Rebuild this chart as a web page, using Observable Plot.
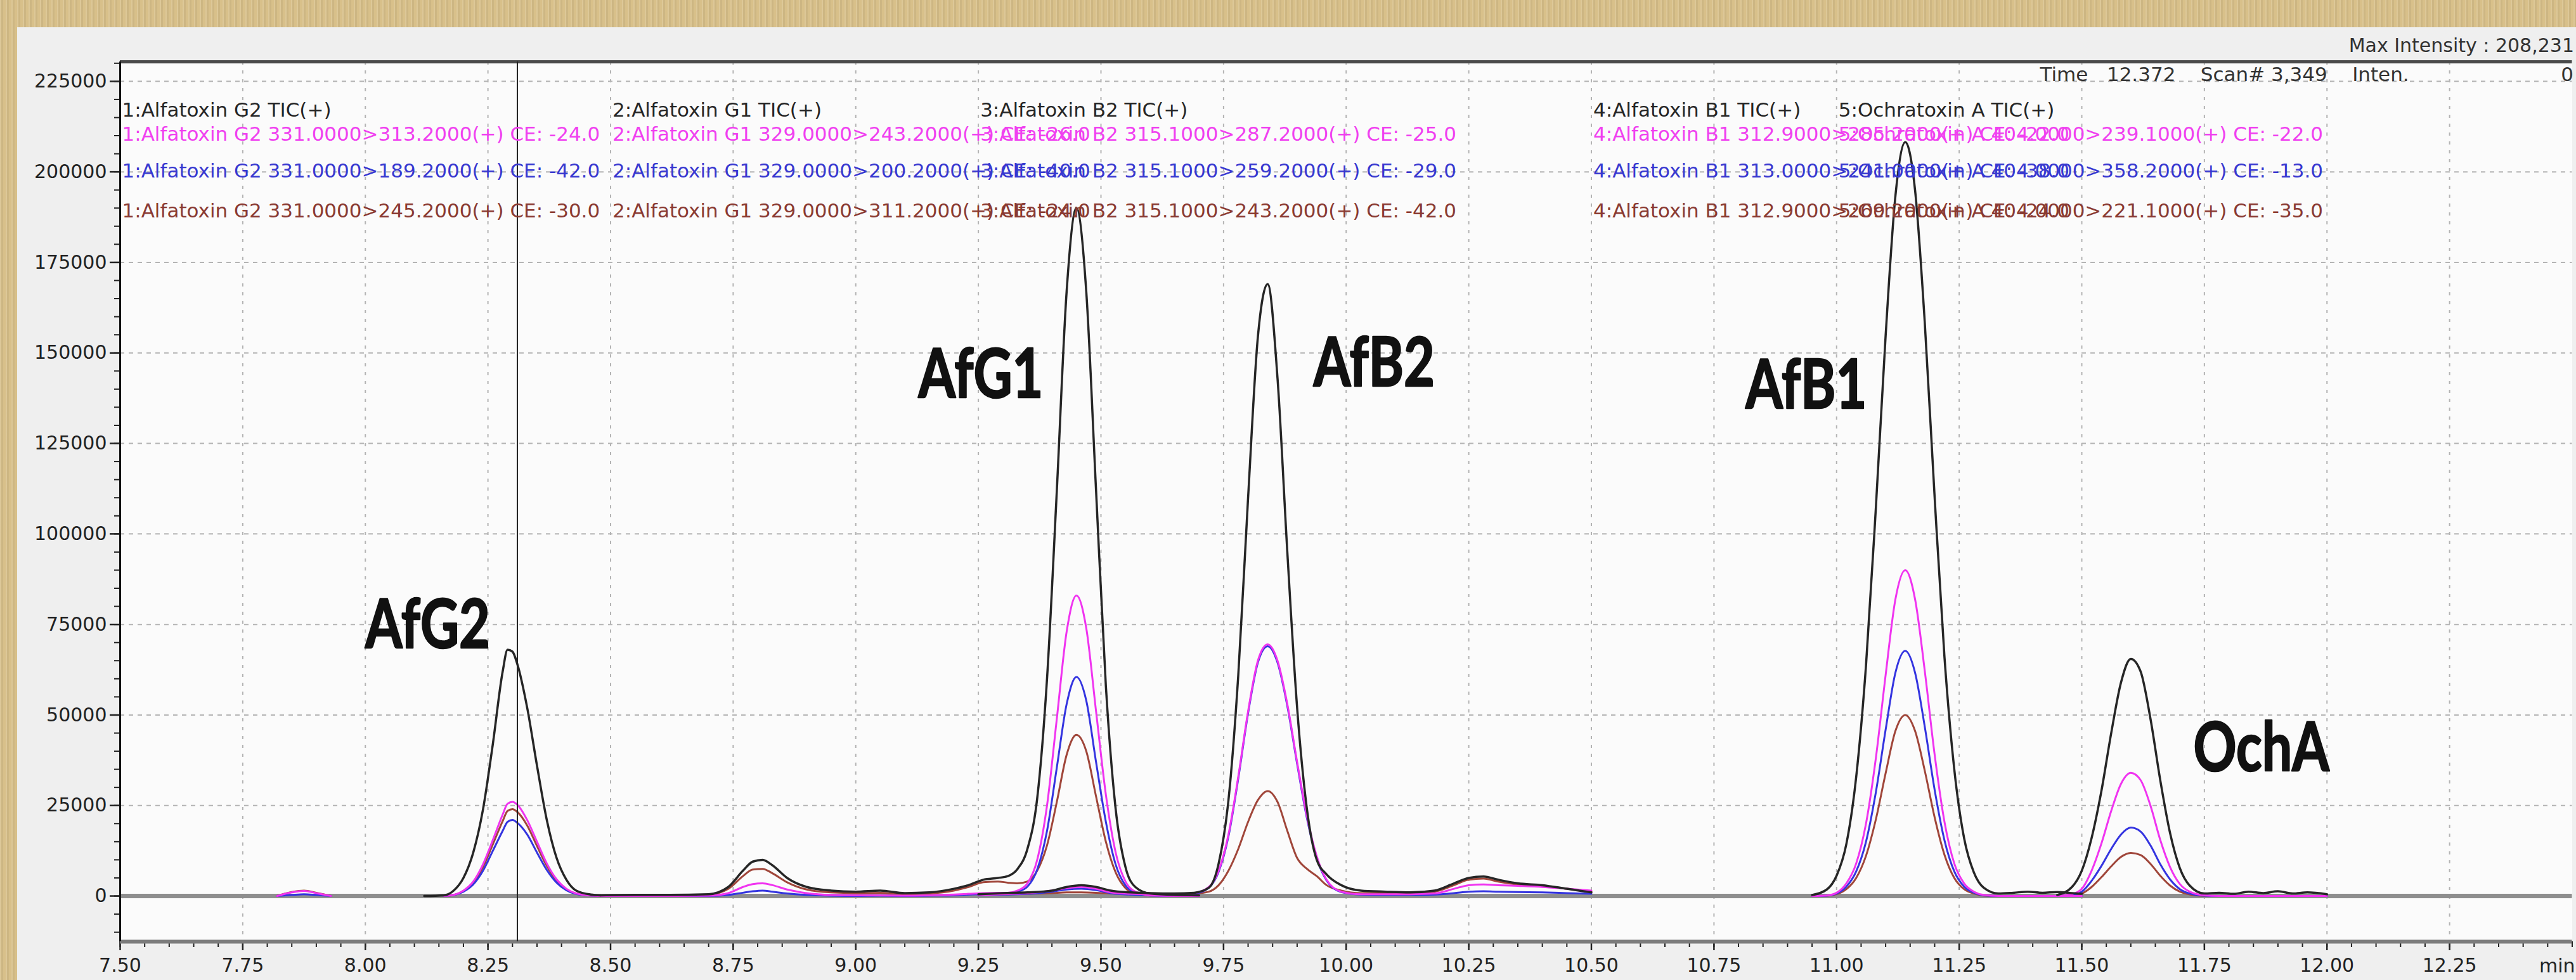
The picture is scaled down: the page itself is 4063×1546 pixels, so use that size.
<!DOCTYPE html>
<html><head><meta charset="utf-8">
<script src="https://cdn.jsdelivr.net/npm/d3@7"></script>
<script src="https://cdn.jsdelivr.net/npm/@observablehq/plot@0.6"></script>
<style>
html,body{margin:0;padding:0}
body{width:4063px;height:1546px;overflow:hidden;position:relative;
 background-color:#d8c08a;
 background-image:repeating-linear-gradient(90deg, rgba(255,255,255,0.12) 0 2px, rgba(0,0,0,0.05) 2px 5px, rgba(255,255,255,0) 5px 9px);}
#panel{position:absolute;left:27px;top:43px;width:4036px;height:1503px;background:#efefef}
</style></head><body><div id="panel"></div>
<script>
// ---------- axes ----------
const xDomain = [7.5, 12.5];
const yDomain = [-12600, 230400];
const xTicks = [7.5, 7.75, 8.0, 8.25, 8.5, 8.75, 9.0, 9.25, 9.5, 9.75, 10.0, 10.25, 10.5, 10.75, 11.0, 11.25, 11.5, 11.75, 12.0, 12.25];
const yTicks = [0, 25000, 50000, 75000, 100000, 125000, 150000, 175000, 200000, 225000];
const xUnit = "min";
const cursorTime = 8.31;
const maxIntensity = 208231;
const cursorInfo = "Time\u00a0\u00a0\u00a012.372\u00a0\u00a0\u00a0\u00a0Scan#\u00a03,349\u00a0\u00a0\u00a0\u00a0Inten.";
const cursorIntensity = "0";

// ---------- segment legend ----------
const segmentStart = [7.5, 8.5, 9.25, 10.5, 11.0];
const segmentName = ["1:Alfatoxin G2", "2:Alfatoxin G1", "3:Alfatoxin B2", "4:Alfatoxin B1", "5:Ochratoxin A"];
const mrm1Label = ["331.0000>313.2000(+) CE: -24.0", "329.0000>243.2000(+) CE: -26.0", "315.1000>287.2000(+) CE: -25.0", "312.9000>285.2000(+) CE: -22.0", "404.0000>239.1000(+) CE: -22.0"];
const mrm2Label = ["331.0000>189.2000(+) CE: -42.0", "329.0000>200.2000(+) CE: -40.0", "315.1000>259.2000(+) CE: -29.0", "313.0000>241.0000(+) CE: -38.0", "404.0000>358.2000(+) CE: -13.0"];
const mrm3Label = ["331.0000>245.2000(+) CE: -30.0", "329.0000>311.2000(+) CE: -24.0", "315.1000>243.2000(+) CE: -42.0", "312.9000>269.2000(+) CE: -24.0", "404.0000>221.1000(+) CE: -35.0"];

// ---------- peak labels ----------
const peakNames = ["AfG2", "AfG1", "AfB2", "AfB1", "OchA"];
const peakLabelTime = [8.127, 9.255, 10.057, 10.938, 11.866];
const peakLabelLevel = [74600, 143700, 146900, 140800, 40600];

// ---------- traces (TIC, MRM1 magenta, MRM2 blue, MRM3 brown) ----------
const g2Time = [7.82, 7.85, 7.875, 7.90, 7.93, 8.05, 8.12, 8.16, 8.18, 8.20, 8.22, 8.24, 8.26, 8.28, 8.29, 8.30, 8.31, 8.33, 8.35, 8.37, 8.39, 8.41, 8.43, 8.46, 8.48];
const g2Tic  = [null, null, null, null, null, null, 0, 200, 1500, 5000, 12000, 24000, 42000, 62000, 68000, 67500, 64000, 52000, 36000, 21000, 10500, 4500, 1500, 400, 200];
const g2Mrm1 = [0, 1000, 1400, 800, 0, null, null, 0, 300, 1500, 4000, 8800, 15500, 22500, 25500, 26000, 25200, 21000, 15000, 9000, 4600, 2000, 700, 150, 0];
const g2Mrm2 = [0, 300, 500, 300, 0, null, null, 0, 250, 1200, 3200, 7000, 12500, 18000, 20500, 21000, 20200, 17000, 12000, 7200, 3700, 1600, 550, 120, 0];
const g2Mrm3 = [0, 1100, 1500, 900, 0, null, null, 0, 280, 1400, 3600, 8000, 14300, 20700, 23500, 24000, 23200, 19500, 13800, 8300, 4200, 1800, 650, 140, 0];

const g1Time = [8.48, 8.55, 8.62, 8.70, 8.74, 8.77, 8.79, 8.81, 8.83, 8.86, 8.90, 8.95, 9.00, 9.05, 9.10, 9.15, 9.20, 9.23, 9.26, 9.29, 9.31, 9.33, 9.35, 9.37, 9.39, 9.41, 9.43, 9.45, 9.47, 9.49, 9.51, 9.53, 9.55, 9.57, 9.60, 9.65, 9.70];
const g1Tic  = [200, 300, 300, 500, 2500, 7000, 9500, 10000, 8500, 5000, 2500, 1500, 1200, 1500, 800, 1000, 2000, 3000, 4500, 5000, 5500, 7500, 13000, 27000, 60000, 112000, 167000, 190000, 167000, 112000, 58000, 24000, 8000, 2500, 700, 300, 200];
const g1Mrm1 = [0, 0, 0, 100, 800, 2500, 3300, 3500, 3000, 1800, 800, 300, 200, 200, 100, 200, 400, 600, 800, 900, 900, 1500, 3500, 10000, 25000, 49000, 73000, 83000, 74000, 51000, 28000, 12000, 4000, 1200, 200, 0, 0];
const g1Mrm2 = [0, 0, 0, 0, 300, 900, 1300, 1500, 1200, 700, 300, 100, 0, 100, 0, 100, 200, 400, 500, 600, 700, 1200, 2600, 7300, 18000, 35500, 53000, 60500, 54000, 37000, 20500, 8700, 2900, 900, 150, 0, 0];
const g1Mrm3 = [100, 200, 200, 400, 2000, 5500, 7300, 7500, 6300, 3800, 1800, 1000, 800, 900, 500, 700, 1500, 2500, 3800, 4000, 3700, 3500, 4000, 7000, 14000, 26000, 39000, 44500, 40000, 27500, 15000, 6500, 2200, 700, 150, 100, 100];

const b2Time = [9.25, 9.30, 9.35, 9.40, 9.43, 9.46, 9.49, 9.52, 9.56, 9.60, 9.65, 9.69, 9.72, 9.74, 9.76, 9.78, 9.80, 9.82, 9.84, 9.86, 9.88, 9.90, 9.92, 9.94, 9.96, 9.99, 10.03, 10.08, 10.13, 10.18, 10.22, 10.25, 10.28, 10.31, 10.35, 10.40, 10.45, 10.50];
const b2Tic  = [500, 800, 1000, 1500, 2500, 3000, 2500, 1500, 1000, 800, 700, 900, 2300, 9000, 26500, 61000, 110000, 154500, 169000, 143000, 95000, 52000, 24000, 10000, 6000, 3000, 1500, 1200, 1000, 1500, 3500, 5000, 5400, 4500, 3500, 3000, 2000, 1000];
const b2Mrm1 = [300, 500, 800, 1500, 2200, 2500, 2000, 1000, 600, 500, 500, 800, 2500, 7000, 17000, 33000, 51000, 65000, 69500, 65000, 53000, 37000, 22000, 11000, 4500, 1200, 500, 500, 500, 700, 2000, 3000, 3200, 3000, 2800, 2500, 2000, 1500];
const b2Mrm2 = [200, 400, 600, 1200, 1800, 2000, 1600, 800, 400, 300, 300, 600, 2300, 6700, 16500, 32500, 50500, 64500, 69000, 64500, 52500, 36500, 21500, 10500, 4300, 1100, 400, 300, 300, 400, 800, 1200, 1300, 1200, 1100, 1000, 800, 600];
const b2Mrm3 = [300, 500, 600, 800, 1000, 1000, 900, 700, 500, 400, 400, 600, 1200, 3000, 7000, 13000, 20500, 26500, 29000, 26000, 18000, 10500, 7500, 5500, 3000, 1500, 800, 800, 700, 1200, 3000, 4500, 4800, 4000, 3200, 2800, 2000, 1200];

const b1Time = [10.95, 10.98, 11.00, 11.02, 11.04, 11.06, 11.08, 11.10, 11.12, 11.14, 11.16, 11.18, 11.20, 11.22, 11.24, 11.26, 11.28, 11.30, 11.33, 11.36, 11.39, 11.42, 11.45, 11.48, 11.50];
const b1Tic  = [270, 1800, 5600, 14400, 32900, 63700, 107000, 154700, 193400, 208231, 195000, 158000, 110000, 66000, 35000, 16000, 6500, 2300, 700, 900, 1200, 900, 1100, 800, 600];
const b1Mrm1 = [0, 150, 900, 3500, 9000, 20000, 38000, 61000, 82000, 90000, 82000, 62000, 39000, 20500, 9000, 3500, 1200, 300, 0, 0, 0, 0, 0, 0, 0];
const b1Mrm2 = [0, 100, 700, 2600, 6800, 15000, 28600, 45900, 61700, 67700, 61700, 46600, 29300, 15400, 6800, 2600, 900, 200, 0, 0, 0, 0, 0, 0, 0];
const b1Mrm3 = [0, 80, 500, 1900, 5000, 11100, 21100, 33900, 45600, 50000, 45600, 34500, 21700, 11400, 5000, 1900, 700, 150, 0, 0, 0, 0, 0, 0, 0];

const ochTime = [11.45, 11.48, 11.50, 11.52, 11.54, 11.56, 11.58, 11.60, 11.62, 11.64, 11.66, 11.68, 11.70, 11.72, 11.75, 11.78, 11.81, 11.84, 11.87, 11.90, 11.93, 11.96, 12.00];
const ochTic  = [300, 2500, 7000, 16000, 29000, 45000, 59000, 65500, 62000, 49000, 32000, 17400, 7700, 2900, 700, 900, 600, 1200, 800, 1300, 700, 1000, 500];
const ochMrm1 = [0, 500, 2000, 7000, 14500, 23500, 31000, 34000, 32000, 25000, 15500, 8000, 3300, 1200, 200, 0, 0, 0, 0, 0, 0, 0, 0];
const ochMrm2 = [0, 300, 1200, 4200, 8300, 13000, 17000, 18900, 17800, 14000, 8800, 4600, 1900, 700, 100, 0, 0, 0, 0, 0, 0, 0, 0];
const ochMrm3 = [0, 200, 700, 2500, 5200, 8200, 10800, 11900, 11300, 8900, 5600, 2900, 1200, 450, 50, 0, 0, 0, 0, 0, 0, 0, 0];

// ---------- build tables ----------
const segments = [
  {time: g2Time, tic: g2Tic, m1: g2Mrm1, m2: g2Mrm2, m3: g2Mrm3},
  {time: g1Time, tic: g1Tic, m1: g1Mrm1, m2: g1Mrm2, m3: g1Mrm3},
  {time: b2Time, tic: b2Tic, m1: b2Mrm1, m2: b2Mrm2, m3: b2Mrm3},
  {time: b1Time, tic: b1Tic, m1: b1Mrm1, m2: b1Mrm2, m3: b1Mrm3},
  {time: ochTime, tic: ochTic, m1: ochMrm1, m2: ochMrm2, m3: ochMrm3}
];
const rows = (key) => segments.flatMap((s, si) => s.time.map((t, i) => ({seg: si, t, v: s[key][i]})));

const col = {tic: "#262626", m1: "#f034f0", m2: "#3434e0", m3: "#a0463a"};
const txtCol = {tic: "#262626", m1: "#f040f0", m2: "#3838d0", m3: "#8a3a32"};

const legend = segmentStart.map((s, i) => ({
  start: s,
  tic: `${segmentName[i]} TIC(+)`,
  m1: `${segmentName[i]} ${mrm1Label[i]}`,
  m2: `${segmentName[i]} ${mrm2Label[i]}`,
  m3: `${segmentName[i]} ${mrm3Label[i]}`
}));
const legendRow = (key, dy) => Plot.text(legend, {
  x: "start", text: key, frameAnchor: "top", textAnchor: "start", lineAnchor: "middle",
  dx: 3, dy, fill: txtCol[key], fontSize: 31
});

const xMinor = d3.range(0, 101).map(i => 7.5 + i * 0.05);
const yMinor = d3.range(-2, 47).map(i => i * 5000);

const chart = Plot.plot({
  width: 4036, height: 1503,
  marginLeft: 162, marginRight: 6.5, marginTop: 54, marginBottom: 61,
  x: {domain: xDomain},
  y: {domain: yDomain},
  style: {background: "transparent", fontFamily: "DejaVu Sans", fontSize: "30px", color: "#222", overflow: "visible"},
  marks: [
    Plot.frame({fill: "#fbfbfb", stroke: "none"}),
    Plot.gridX(xTicks, {stroke: "#b4b4b4", strokeOpacity: 1, strokeWidth: 2, strokeDasharray: "5,9"}),
    Plot.gridY(yTicks, {stroke: "#b4b4b4", strokeOpacity: 1, strokeWidth: 2, strokeDasharray: "7,7"}),
    Plot.ruleY([0], {stroke: "#8e8e8e", strokeWidth: 7}),
    Plot.axisX(xMinor, {anchor: "bottom", tickSize: 9, tickFormat: () => "", label: null, strokeWidth: 2}),
    Plot.axisX(xTicks, {anchor: "bottom", tickSize: 14, tickPadding: 12, tickFormat: d3.format(".2f"), label: null, fontSize: 30, strokeWidth: 2.5}),
    Plot.axisY(yMinor, {anchor: "left", tickSize: 9, tickFormat: () => "", label: null, strokeWidth: 2}),
    Plot.axisY(yTicks, {anchor: "left", tickSize: 16, tickPadding: 5, tickFormat: d => String(d), label: null, fontSize: 30, strokeWidth: 2.5}),
    // traces
    Plot.line(rows("m3"), {x: "t", y: "v", z: "seg", stroke: col.m3, strokeWidth: 3, curve: "monotone-x"}),
    Plot.line(rows("m2"), {x: "t", y: "v", z: "seg", stroke: col.m2, strokeWidth: 3, curve: "monotone-x"}),
    Plot.line(rows("m1"), {x: "t", y: "v", z: "seg", stroke: col.m1, strokeWidth: 3, curve: "monotone-x"}),
    Plot.line(rows("tic"), {x: "t", y: "v", z: "seg", stroke: col.tic, strokeWidth: 3.5, curve: "monotone-x"}),
    // frame lines
    Plot.ruleY([yDomain[1]], {stroke: "#4a4a4a", strokeWidth: 5}),
    Plot.ruleY([yDomain[0]], {stroke: "#7c7c7c", strokeWidth: 6}),
    Plot.ruleX([xDomain[0]], {stroke: "#111", strokeWidth: 3}),
    Plot.ruleX([cursorTime], {stroke: "#222", strokeWidth: 2}),
    // legend rows
    legendRow("tic", 77),
    legendRow("m1", 115),
    legendRow("m2", 173),
    legendRow("m3", 236),
    // peak labels
    Plot.text(peakNames, {x: (d, i) => peakLabelTime[i], y: (d, i) => peakLabelLevel[i], text: d => d,
      fontFamily: "Lato", fontWeight: 700, fontSize: 108, fill: "#111", stroke: "#111", strokeWidth: 2.5, lineAnchor: "middle"}),
    // header texts
    Plot.text([`Max Intensity : ${d3.format(",")(maxIntensity)}`], {frameAnchor: "top-right", textAnchor: "end", lineAnchor: "middle", dx: 3, dy: -25, fontSize: 30, fill: "#333"}),
    Plot.text([cursorInfo], {frameAnchor: "top-left", textAnchor: "start", lineAnchor: "middle", dx: 3028, dy: 21, fontSize: 31, fill: "#333"}),
    Plot.text([cursorIntensity], {frameAnchor: "top-right", textAnchor: "end", lineAnchor: "middle", dx: 2, dy: 21, fontSize: 31, fill: "#333"}),
    Plot.text([xUnit], {frameAnchor: "bottom-right", textAnchor: "start", lineAnchor: "top", dx: -52, dy: 27, fontSize: 30, fill: "#222"})
  ]
});
document.getElementById("panel").appendChild(chart);

// condense the bold peak labels horizontally (around their anchor point)
const peakSet = new Set(peakNames);
chart.querySelectorAll("text").forEach(t => {
  if (!peakSet.has(t.textContent.trim())) return;
  const tr = t.getAttribute("transform");
  if (tr) t.setAttribute("transform", `${tr} scale(0.78,1)`);
});
</script></body></html>
